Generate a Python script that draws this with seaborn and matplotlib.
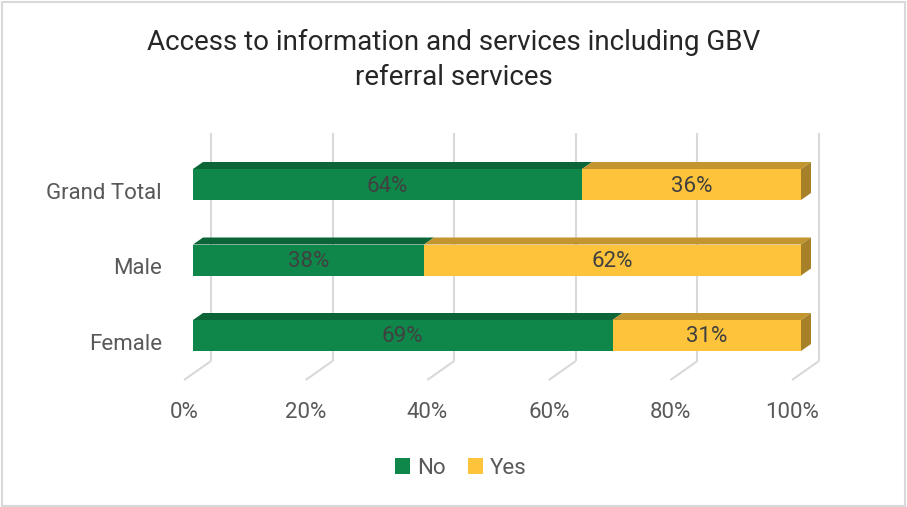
import matplotlib
matplotlib.use("Agg")
import matplotlib.pyplot as plt
from matplotlib.patches import Polygon, Rectangle, Patch
import seaborn as sns
import pandas as pd

categories = ["Grand Total", "Male", "Female"]
no_values = [64, 38, 69]
yes_values = [36, 62, 31]
tick_values = [0, 20, 40, 60, 80, 100]
tick_labels = ["0%", "20%", "40%", "60%", "80%", "100%"]
series_names = ["No", "Yes"]
title_text = "Access to information and services including GBV\nreferral services"

GREEN = "#10874A"
GREEN_TOP = "#0B6536"
YELLOW = "#FDC33A"
YELLOW_TOP = "#C3952E"
YELLOW_SIDE = "#A7802A"
GRID = "#D9D9D9"
TEXT = "#595959"
LABEL = "#404040"

sns.set_theme(style="white")
plt.rcParams["font.family"] = ["Roboto", "DejaVu Sans"]

W, H = 907, 507
fig = plt.figure(figsize=(W / 100, H / 100), dpi=100)

# plot area in pixels: front 0% at x=193, 100% at x=801; y from 130 to 380
left_px, right_px, top_px, bot_px = 193, 801, 130, 380
ax = fig.add_axes([left_px / W, (H - bot_px) / H, (right_px - left_px) / W, (bot_px - top_px) / H])

px_x = (right_px - left_px) / 100.0   # pixels per percent
row0, spacing = 184.5, 75.5            # pixel centre of first row, row spacing
px_y = spacing


def dx(p):
    return p / px_x


def dy(p):
    return p / px_y


df = pd.DataFrame({"category": categories, "No": no_values, "Yes": yes_values})
df["Total"] = df["No"] + df["Yes"]

bar_h = 31 / spacing
depth_x, depth_y = 10, 7   # bar depth offsets in pixels

# front faces: full stacked length in yellow, "No" share in green on top
sns.barplot(data=df, x="Total", y="category", orient="h", color=YELLOW,
            width=bar_h, saturation=1, linewidth=0, ax=ax, zorder=2)
sns.barplot(data=df, x="No", y="category", orient="h", color=GREEN,
            width=bar_h, saturation=1, linewidth=0, ax=ax, zorder=3)
ax.set_xlim(0, 100)
ax.set_ylim((bot_px - row0) / spacing, (top_px - row0) / spacing)
ax.axis("off")

# back-wall gridlines and floor edges
wall_off, floor_off = 18, -9
wall_bottom = (361 - row0) / spacing
wall_top = (133 - row0) / spacing
floor_front = (380 - row0) / spacing
for t in tick_values:
    ax.plot([t + dx(wall_off), t + dx(wall_off)], [wall_top, wall_bottom],
            color=GRID, lw=1.5, zorder=0, clip_on=False, solid_capstyle="butt")
    ax.plot([t + dx(wall_off), t + dx(floor_off)], [wall_bottom, floor_front],
            color=GRID, lw=1.5, zorder=0, clip_on=False, solid_capstyle="butt")

# top and side faces for the 3D effect
for i, row in df.iterrows():
    top = i - bar_h / 2
    bottom = i + bar_h / 2
    ox, oy = dx(depth_x), dy(depth_y)
    segs = [(0, row["No"], GREEN_TOP), (row["No"], row["Total"], YELLOW_TOP)]
    for x0, x1, c in segs:
        ax.add_patch(Polygon([(x0, top), (x0 + ox, top - oy), (x1 + ox, top - oy), (x1, top)],
                             closed=True, facecolor=c, edgecolor="none", zorder=3, clip_on=False))
    x1 = row["Total"]
    ax.add_patch(Polygon([(x1, top), (x1 + ox, top - oy), (x1 + ox, bottom - oy), (x1, bottom)],
                         closed=True, facecolor=YELLOW_SIDE, edgecolor="none", zorder=3, clip_on=False))
    # value labels centred on each segment
    ax.text(row["No"] / 2, i + dy(1.5), f"{row['No']}%", ha="center", va="center",
            fontsize=16, color=LABEL, zorder=5)
    ax.text(row["No"] + row["Yes"] / 2, i + dy(1.5), f"{row['Yes']}%", ha="center", va="center",
            fontsize=16, color=LABEL, zorder=5)
    # category label
    ax.text(dx(-31), i + dy(9), row["category"], ha="right", va="center",
            fontsize=16, color=TEXT, clip_on=False)

# x tick labels below the floor edge
tick_y = (412 - row0) / spacing
for t, lab in zip(tick_values, tick_labels):
    ax.text(t + dx(floor_off), tick_y, lab, ha="center", va="center",
            fontsize=16, color=TEXT, clip_on=False)

# title
fig.text(0.5, 1 - 60 / H, title_text, ha="center", va="center", fontsize=20,
         color="#262626", linespacing=1.38)

# legend
handles = [Patch(facecolor=GREEN, edgecolor="none"), Patch(facecolor=YELLOW, edgecolor="none")]
fig.legend(handles, series_names, loc="center", bbox_to_anchor=(0.508, 1 - 468 / H),
           ncol=2, frameon=False, fontsize=16, handlelength=0.7, handleheight=0.7,
           handletextpad=0.3, columnspacing=1.0, labelcolor=TEXT)

# outer border
fig.patches.append(Rectangle((2 / W, 1 / H), (W - 4) / W, (H - 3) / H, transform=fig.transFigure,
                             fill=False, edgecolor=GRID, lw=1.5))

fig.savefig("out.png", dpi=100)
